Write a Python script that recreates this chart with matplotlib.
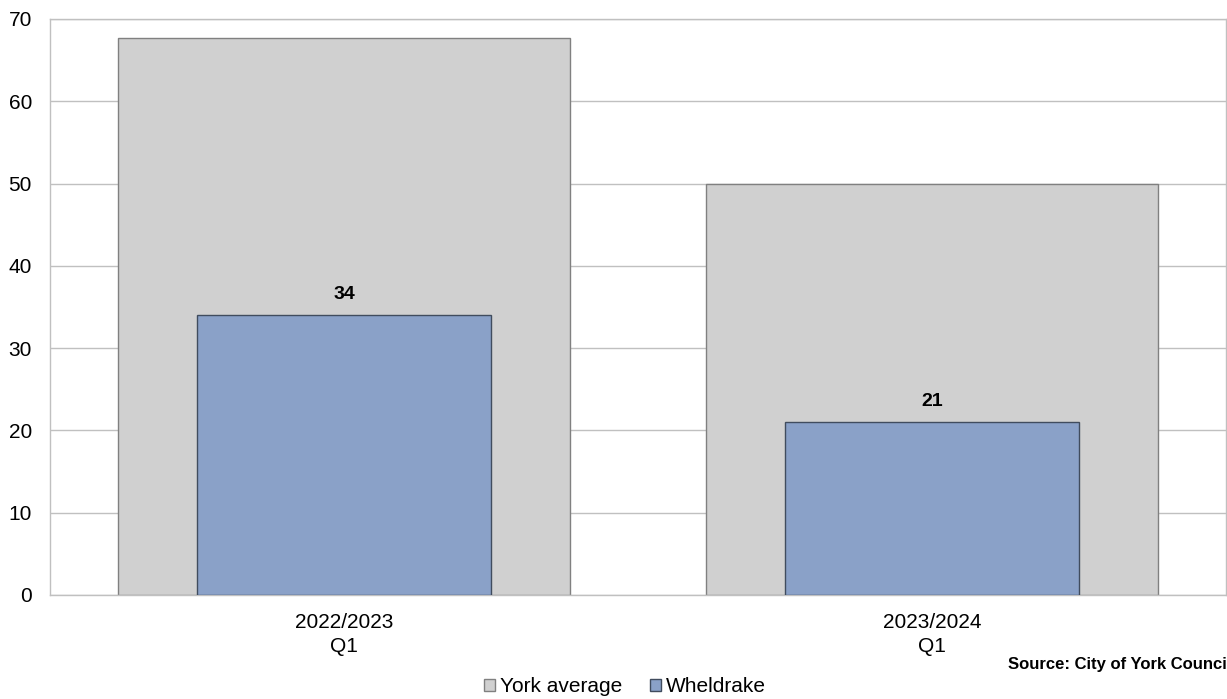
import matplotlib
matplotlib.use("Agg")
import matplotlib.pyplot as plt
from matplotlib.patches import Patch

plt.rcParams['font.family'] = ['Liberation Sans', 'DejaVu Sans']

categories = ["2022/2023\nQ1", "2023/2024\nQ1"]
york_average = [67.7, 50.0]
wheldrake = [34, 21]
yticks = [0, 10, 20, 30, 40, 50, 60, 70]

fig = plt.figure(figsize=(12.27, 6.99), dpi=100)
ax = fig.add_axes([50/1227, 1 - 595/699, 1176/1227, 576/699])

x = list(range(len(categories)))
ax.bar(x, york_average, width=0.769, color='#d0d0d0', edgecolor='#808080', linewidth=1, zorder=2)
ax.bar(x, wheldrake, width=0.5, color='#8aa1c8', edgecolor='#404c5e', linewidth=1, zorder=3)

for xi, v in zip(x, wheldrake):
    ax.annotate(f"{v}", (xi, v), xytext=(0, 15), textcoords='offset points',
                ha='center', va='center', fontsize=14, fontweight='bold', zorder=4)

ax.set_xlim(-0.5, 1.5)
ax.set_ylim(0, 70)
ax.set_yticks(yticks)
ax.set_yticklabels([str(t) for t in yticks], fontsize=15)
ax.set_xticks(x)
ax.set_xticklabels(categories, fontsize=15, linespacing=1.35)
ax.tick_params(axis='both', length=0)
ax.tick_params(axis='y', pad=13)
ax.tick_params(axis='x', pad=13)
ax.yaxis.grid(True, color='#c0c0c0', linewidth=1, zorder=0)
ax.set_axisbelow(True)
for s in ax.spines.values():
    s.set_color('#c0c0c0')
    s.set_linewidth(1)

fig.text(1008/1227, 1 - 665/699, "Source: City of York Council", fontsize=12, fontweight='bold',
         ha='left', va='center')

handles = [Patch(facecolor='#d0d0d0', edgecolor='#808080', label='York average'),
           Patch(facecolor='#8aa1c8', edgecolor='#404c5e', label='Wheldrake')]
fig.legend(handles=handles, loc='center', bbox_to_anchor=(625/1227, 1 - 687/699), ncol=2,
           frameon=False, fontsize=15, handlelength=0.55, handleheight=0.55,
           handletextpad=0.25, columnspacing=1.3)

fig.savefig("out.png", dpi=100)
